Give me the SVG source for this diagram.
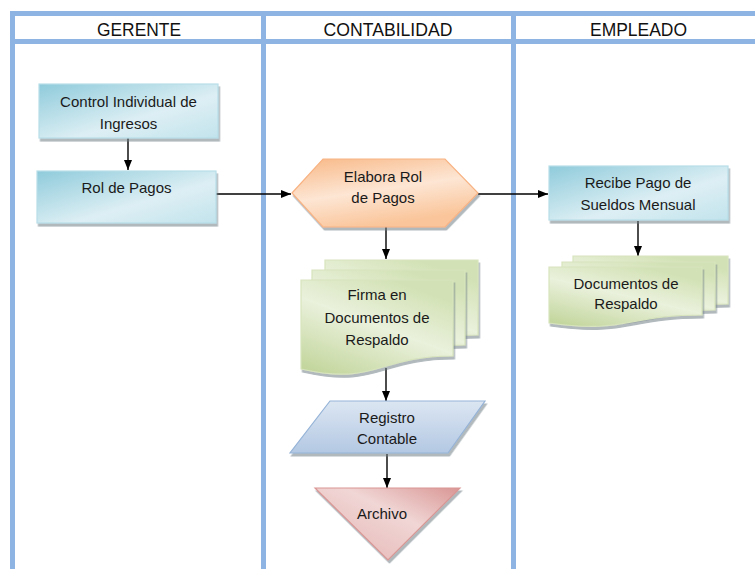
<svg xmlns="http://www.w3.org/2000/svg" width="755" height="569" viewBox="0 0 755 569">
  <style>
    .lane { stroke: #8EB4E3; stroke-width: 5; fill: none; }
    .head { font-family: "Liberation Sans", Arial, sans-serif; font-size: 19px; fill: #111; text-anchor: middle; }
    .lbl { font-family: "Liberation Sans", Arial, sans-serif; font-size: 15px; fill: #1a1a1a; text-anchor: middle; }
    .conn { stroke: #000; stroke-width: 1.4; fill: none; marker-end: url(#arrow); }
    .proc { fill: url(#gBlue); stroke: #B7DEE8; stroke-width: 1.2; filter: url(#shadow); }
    .doc { fill: url(#gGreen); stroke: #D7E4BD; stroke-width: 1.2; filter: url(#shadow); }
  </style>
  <defs>
    <linearGradient id="gBlue" x1="0" y1="0" x2="1" y2="1">
      <stop offset="0" stop-color="#8FCBDB"/>
      <stop offset="0.6" stop-color="#DDEFF4"/>
      <stop offset="1" stop-color="#C2E3EC"/>
    </linearGradient>
    <linearGradient id="gOrange" x1="0" y1="0" x2="0.4" y2="1">
      <stop offset="0" stop-color="#F8B886"/>
      <stop offset="0.55" stop-color="#FDE6D4"/>
      <stop offset="1" stop-color="#FAC59A"/>
    </linearGradient>
    <linearGradient id="gGreen" x1="0" y1="1" x2="0.6" y2="0">
      <stop offset="0" stop-color="#BFD396"/>
      <stop offset="0.6" stop-color="#EAF1DC"/>
      <stop offset="1" stop-color="#D3E2B6"/>
    </linearGradient>
    <linearGradient id="gSteel" x1="0" y1="0" x2="0" y2="1">
      <stop offset="0" stop-color="#DCE6F2"/>
      <stop offset="1" stop-color="#B3C8E3"/>
    </linearGradient>
    <linearGradient id="gRose" x1="1" y1="0" x2="0.2" y2="0.8">
      <stop offset="0" stop-color="#D99694"/>
      <stop offset="0.5" stop-color="#F0D6D5"/>
      <stop offset="1" stop-color="#E8BEBD"/>
    </linearGradient>
    <filter id="shadow" x="-10%" y="-10%" width="130%" height="130%">
      <feDropShadow dx="1.5" dy="3" stdDeviation="0.6" flood-color="#6F8087" flood-opacity="0.55"/>
    </filter>
    <marker id="arrow" viewBox="0 0 10 8" refX="10" refY="4" markerWidth="10" markerHeight="8" markerUnits="userSpaceOnUse" orient="auto">
      <path d="M0,0 L10,4 L0,8 Z" fill="#000"/>
    </marker>
  </defs>

  <!-- swimlane frame -->
  <g id="lanes">
    <line class="lane" x1="10" y1="13.5" x2="755" y2="13.5"/>
    <line class="lane" x1="10" y1="41.5" x2="755" y2="41.5"/>
    <line class="lane" x1="12.5" y1="11" x2="12.5" y2="569"/>
    <line class="lane" x1="263.5" y1="11" x2="263.5" y2="569"/>
    <line class="lane" x1="513.5" y1="11" x2="513.5" y2="569"/>
    <text class="head" x="139" y="36" textLength="84" lengthAdjust="spacingAndGlyphs">GERENTE</text>
    <text class="head" x="388" y="36" textLength="129" lengthAdjust="spacingAndGlyphs">CONTABILIDAD</text>
    <text class="head" x="638.5" y="36" textLength="97" lengthAdjust="spacingAndGlyphs">EMPLEADO</text>
  </g>

  <!-- connectors -->
  <g id="connectors">
    <line class="conn" x1="128" y1="138" x2="128" y2="170"/>
    <line class="conn" x1="216" y1="194" x2="291" y2="194"/>
    <line class="conn" x1="386" y1="227" x2="386" y2="259"/>
    <line class="conn" x1="478" y1="194" x2="548" y2="194"/>
    <line class="conn" x1="638" y1="221" x2="638" y2="256"/>
    <line class="conn" x1="386" y1="368" x2="386" y2="401"/>
    <line class="conn" x1="387" y1="454" x2="387" y2="488"/>
  </g>

  <g id="control-ingresos">
    <rect class="proc" x="39" y="84" width="179" height="54"/>
    <text class="lbl" x="128.5" y="107">Control Individual de</text>
    <text class="lbl" x="128.5" y="129">Ingresos</text>
  </g>

  <g id="rol-pagos">
    <rect class="proc" x="37" y="171" width="179" height="52"/>
    <text class="lbl" x="126.5" y="193">Rol de Pagos</text>
  </g>

  <g id="elabora-rol">
    <path d="M292,193 L323,159 L445,159 L478,193 L445,227 L323,227 Z" fill="url(#gOrange)" stroke="#F8B383" stroke-width="1.2" filter="url(#shadow)"/>
    <text class="lbl" x="383" y="182">Elabora Rol</text>
    <text class="lbl" x="383" y="203">de Pagos</text>
  </g>

  <g id="firma-documentos">
    <path class="doc" d="M325,260 H478 V335 C401.5,335 401.5,364 325,348 Z"/>
    <path class="doc" d="M312,270 H465 V345 C388.5,345 388.5,374 312,358 Z"/>
    <path class="doc" d="M301,280 H453 V356 C377,356 377,386 301,369 Z"/>
    <text class="lbl" x="377" y="300">Firma en</text>
    <text class="lbl" x="377" y="323">Documentos de</text>
    <text class="lbl" x="377" y="345">Respaldo</text>
  </g>

  <g id="registro-contable">
    <path d="M330,401 L485,401 L448,453 L290,453 Z" fill="url(#gSteel)" stroke="#95B3D7" stroke-width="1.2" filter="url(#shadow)"/>
    <text class="lbl" x="387" y="423">Registro</text>
    <text class="lbl" x="387" y="444">Contable</text>
  </g>

  <g id="archivo">
    <path d="M315,488 L460,488 L388,560 Z" fill="url(#gRose)" stroke="#D99694" stroke-width="1.2" filter="url(#shadow)"/>
    <text class="lbl" x="382" y="519">Archivo</text>
  </g>

  <g id="recibe-pago">
    <rect class="proc" x="549" y="166" width="179" height="54"/>
    <text class="lbl" x="638" y="188">Recibe Pago de</text>
    <text class="lbl" x="638" y="210">Sueldos Mensual</text>
  </g>

  <g id="documentos-respaldo">
    <path class="doc" d="M573,256 H728 V304 C650.5,304 650.5,323 573,312 Z"/>
    <path class="doc" d="M562,262 H715 V310 C638.5,310 638.5,329 562,318 Z"/>
    <path class="doc" d="M549,267 H702 V315 C625.5,315 625.5,334 549,323 Z"/>
    <text class="lbl" x="626" y="289">Documentos de</text>
    <text class="lbl" x="626" y="309">Respaldo</text>
  </g>
</svg>
